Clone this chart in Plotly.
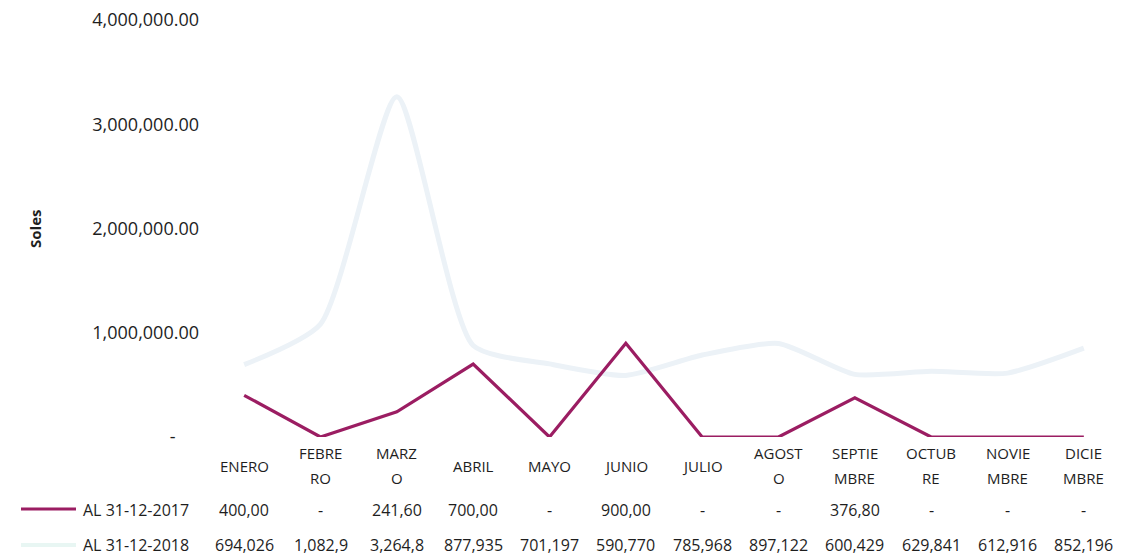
import plotly.graph_objects as go

months = ["ENERO", "FEBRERO", "MARZO", "ABRIL", "MAYO", "JUNIO", "JULIO",
          "AGOSTO", "SEPTIEMBRE", "OCTUBRE", "NOVIEMBRE", "DICIEMBRE"]
month_labels = ["ENERO", "FEBRE<br>RO", "MARZ<br>O", "ABRIL", "MAYO", "JUNIO", "JULIO",
                "AGOST<br>O", "SEPTIE<br>MBRE", "OCTUB<br>RE", "NOVIE<br>MBRE", "DICIE<br>MBRE"]

series_2017_name = "AL 31-12-2017"
series_2018_name = "AL 31-12-2018"

values_2017 = [400000, 0, 241600, 700000, 0, 900000, 0, 0, 376800, 0, 0, 0]
values_2018 = [694026, 1082900, 3264800, 877935, 701197, 590770, 785968,
               897122, 600429, 629841, 612916, 852196]

table_2017 = ["400,00", "-", "241,60", "700,00", "-", "900,00", "-", "-",
              "376,80", "-", "-", "-"]
table_2018 = ["694,026", "1,082,9", "3,264,8", "877,935", "701,197", "590,770",
              "785,968", "897,122", "600,429", "629,841", "612,916", "852,196"]

y_ticks = [0, 1000000, 2000000, 3000000, 4000000]
y_ticktext = ["-\u00a0\u00a0\u00a0\u00a0\u00a0", "1,000,000.00", "2,000,000.00",
              "3,000,000.00", "4,000,000.00"]

c2017 = "#9b1d62"
c2018 = "#ecf2f7"
ff = "Open Sans, sans-serif"
txt = "#1e1e1e"

L, R, T, B = 198, 20, 12, 127
W, H = 1134, 556
PW, PH = W - L - R, H - T - B


def py(page_y):
    # page pixel y (page has 8px body offset) -> paper fraction
    fy = page_y - 8
    return (H - B - fy) / PH


def px(page_x):
    fx = page_x - 8
    return (fx - L) / PW


x = list(range(len(months)))

fig = go.Figure()
fig.add_trace(go.Scatter(x=x, y=values_2018, mode="lines", name=series_2018_name,
                         line=dict(color=c2018, width=5, shape="spline", smoothing=0.6)))
fig.add_trace(go.Scatter(x=x, y=values_2017, mode="lines", name=series_2017_name,
                         line=dict(color=c2017, width=3.2)))

annotations = []


def ann(xv, yv, text, size, xref="x", xanchor="center"):
    annotations.append(dict(x=xv, y=yv, xref=xref, yref="paper", text=text,
                            showarrow=False, xanchor=xanchor, yanchor="middle",
                            font=dict(family=ff, size=size, color=txt)))


for i, lab in enumerate(month_labels):
    parts = lab.split("<br>")
    if len(parts) == 1:
        ann(i, py(466), parts[0], 15)
    else:
        ann(i, py(453), parts[0], 15)
        ann(i, py(478), parts[1], 15)
    ann(i, py(510), table_2017[i], 16)
    ann(i, py(545), table_2018[i], 16)

ann(px(81), py(510), series_2017_name, 16, xref="paper", xanchor="left")
ann(px(81), py(545), series_2018_name, 16, xref="paper", xanchor="left")

annotations.append(dict(x=px(35), y=py(229), xref="paper", yref="paper", text="<b>Soles</b>",
                        showarrow=False, textangle=-90, xanchor="center", yanchor="middle",
                        font=dict(family=ff, size=15, color=txt)))

shapes = [
    dict(type="line", xref="paper", yref="paper", x0=px(21), x1=px(76), y0=py(509), y1=py(509),
         line=dict(color=c2017, width=3.2)),
    dict(type="line", xref="paper", yref="paper", x0=px(21), x1=px(76), y0=py(545), y1=py(545),
         line=dict(color="#e8f6f3", width=4)),
]

fig.update_layout(
    width=W, height=H,
    margin=dict(l=L, r=R, t=T, b=B, autoexpand=False),
    paper_bgcolor="white", plot_bgcolor="white",
    showlegend=False,
    font=dict(family=ff, size=15, color=txt),
    xaxis=dict(range=[-0.5, 11.5], showticklabels=False, showgrid=False,
               zeroline=False, showline=False, ticks="", automargin=False),
    yaxis=dict(range=[0, 4000000], tickvals=y_ticks, ticktext=y_ticktext,
               showgrid=False, zeroline=False, showline=False, ticks="",
               ticklabelstandoff=6, ticklabeloverflow="allow", automargin=False,
               tickfont=dict(family=ff, size=18, color=txt)),
    annotations=annotations,
    shapes=shapes,
)

fig.write_html("out.html")
